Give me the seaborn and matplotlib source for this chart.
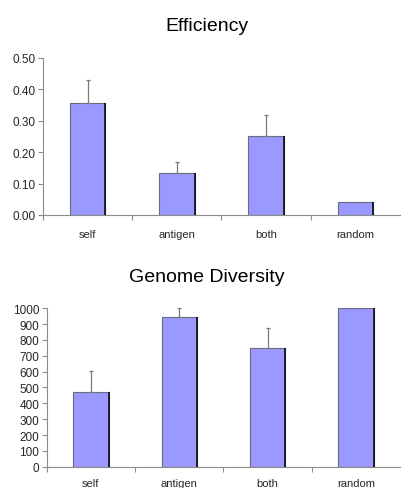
import matplotlib
matplotlib.use("Agg")
import matplotlib.pyplot as plt
import seaborn as sns
import pandas as pd

categories = ["self", "antigen", "both", "random"]

efficiency = [0.357, 0.134, 0.252, 0.040]
efficiency_err = [0.073, 0.036, 0.066, 0.0]
efficiency_ticks = [0.0, 0.1, 0.2, 0.3, 0.4, 0.5]

diversity = [470, 947, 747, 1000]
diversity_err = [132, 58, 127, 0]
diversity_ticks = list(range(0, 1001, 100))

sns.set_theme(style="white")
plt.rcParams["font.family"] = ["Liberation Sans", "DejaVu Sans"]

BAR = "#9999ff"
EDGE = "#6a6a80"
AXIS = "#8c8c8c"

fig = plt.figure(figsize=(4.01, 4.89), dpi=100)
ax1 = fig.add_axes([0.1072, 0.5583, 0.8903, 0.3211])
ax2 = fig.add_axes([0.1165, 0.0436, 0.8810, 0.3239])


def draw(ax, values, errs, ticks, fmt, title, title_y, xpad):
    df = pd.DataFrame({"cat": categories, "val": values})
    sns.barplot(data=df, x="cat", y="val", ax=ax, color=BAR, width=0.4,
                saturation=1, edgecolor=EDGE, linewidth=0.8, errorbar=None)
    # dark shadow line on the right side of each bar
    for p in ax.patches:
        x1 = p.get_x() + p.get_width()
        ax.plot([x1, x1], [0, p.get_height()], color="black", lw=1.1,
                solid_capstyle="butt", zorder=3)
    # upper error bars only, skipped where there is no spread
    idx = [i for i, e in enumerate(errs) if e > 0]
    ax.errorbar(idx, [values[i] for i in idx],
                yerr=[[0] * len(idx), [errs[i] for i in idx]], fmt="none",
                ecolor="#7a7a7a", elinewidth=0.9, capsize=1.5, capthick=0.9,
                clip_on=False, zorder=1)
    xs = list(range(len(categories)))
    ax.set_xlim(-0.5, len(categories) - 0.5)
    ax.set_ylim(ticks[0], ticks[-1])
    ax.set_yticks(ticks)
    ax.set_yticklabels([fmt.format(t) for t in ticks], fontsize=8.5)
    ax.set_xticks(xs)
    ax.set_xticklabels(categories, fontsize=8)
    ax.set_xticks([i - 0.5 for i in range(len(categories))], minor=True)
    ax.tick_params(axis="x", which="major", length=0, pad=xpad)
    ax.tick_params(axis="x", which="minor", length=3.5, width=0.8,
                   color=AXIS, direction="out", bottom=True)
    ax.tick_params(axis="y", length=3.5, width=0.8, color=AXIS,
                   direction="out", left=True, pad=2)
    ax.set_xlabel("")
    ax.set_ylabel("")
    for s in ["top", "right"]:
        ax.spines[s].set_visible(False)
    for s in ["left", "bottom"]:
        ax.spines[s].set_color(AXIS)
        ax.spines[s].set_linewidth(0.8)
    fig.text(0.516, title_y, title, ha="center", va="baseline",
             fontsize=14, color="black")


draw(ax1, efficiency, efficiency_err, efficiency_ticks, "{:.2f}",
     "Efficiency", 1 - 31 / 489, 10)
draw(ax2, diversity, diversity_err, diversity_ticks, "{:.0f}",
     "Genome Diversity", 1 - 282 / 489, 8)

fig.savefig("out.png", dpi=100)
